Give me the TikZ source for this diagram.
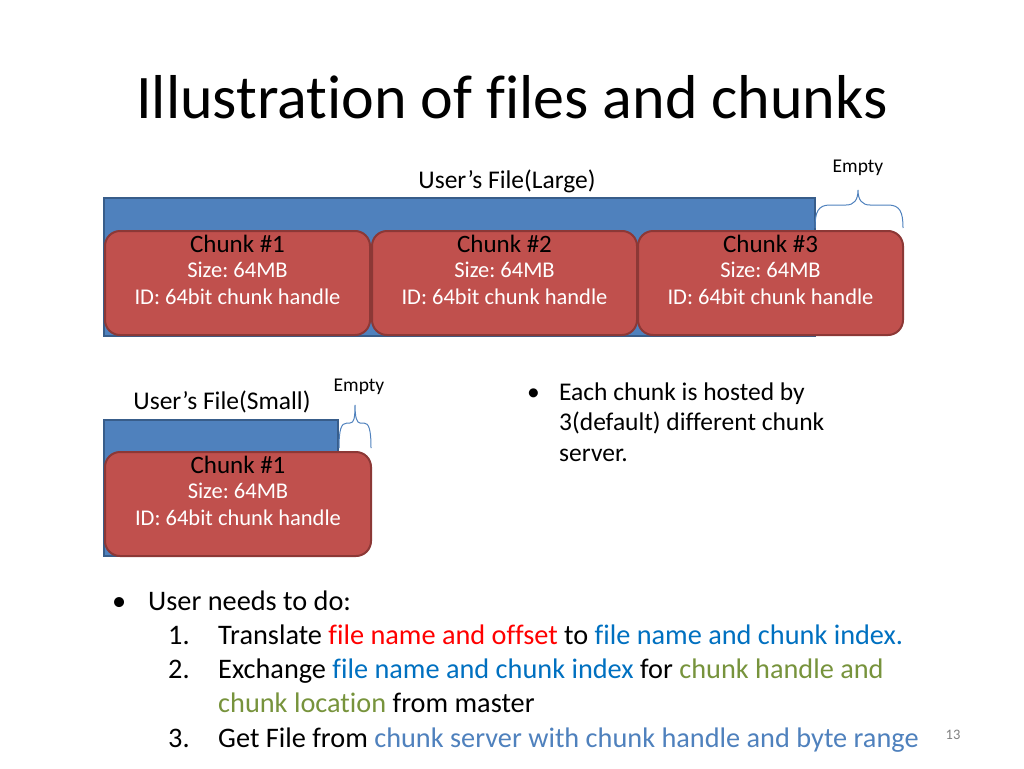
\documentclass[tikz,border=0pt]{standalone}
\usepackage{fontspec}
\setmainfont[Ligatures={NoCommon}]{Carlito}
\definecolor{fblue}{HTML}{4F81BD}
\definecolor{fbluedark}{HTML}{385D8A}
\definecolor{cred}{HTML}{C0504D}
\definecolor{creddark}{HTML}{8C3836}
\definecolor{tred}{HTML}{FF0000}
\definecolor{tblue}{HTML}{0070C0}
\definecolor{tgreen}{HTML}{77933C}
\definecolor{tlblue}{HTML}{4F81BD}
\tikzset{
  filebox/.style={draw=fbluedark, fill=fblue, line width=1.2pt},
  chunkbox/.style={draw=creddark, fill=cred, line width=2pt, rounded corners=15pt},
  chunktitle/.style={anchor=base, font=\fontsize{25}{25}\selectfont, text=black, inner sep=0pt},
  chunkline/.style={anchor=base, font=\fontsize{22.5}{22.5}\selectfont, text=white, inner sep=0pt},
  lbl/.style={anchor=base, font=\fontsize{25.5}{25.5}\selectfont, inner sep=0pt},
  emptylbl/.style={anchor=base, font=\fontsize{19.5}{19.5}\selectfont, inner sep=0pt},
  bracestyle/.style={draw=fblue, line width=1pt},
  body/.style={anchor=base west, font=\fontsize{28.3}{28.3}\selectfont, inner sep=0pt},
  side/.style={anchor=base west, font=\fontsize{25.5}{25.5}\selectfont, inner sep=0pt},
}
\begin{document}
\frenchspacing
\begin{tikzpicture}[x=1pt,y=-1pt]
\useasboundingbox (0,0) rectangle (1024,768);
% title
\node[anchor=base, font=\fontsize{62}{62}\selectfont, inner sep=0pt] (title) at (512,118) {Illustration of files and chunks};
% large file
\node[lbl] (largelbl) at (507,188) {User’s File(Large)};
\draw[filebox] (104,198) rectangle (815,336);
\node[emptylbl] (empty1) at (858,172) {Empty};
\draw[bracestyle] (815,228) .. controls (815,212) and (818,205) .. (830,205) -- (846,205) .. controls (854,205) and (858,200) .. (858,190)
  .. controls (858,200) and (862,205) .. (870,205) -- (888,205) .. controls (900,205) and (903,212) .. (903,228);
\foreach \x/\n in {105/1,372/2,638/3}{
  \draw[chunkbox] (\x,231) rectangle ++(265,104);
  \node[chunktitle] (c\n t) at (\x+132.5,252) {Chunk \#\n};
  \node[chunkline] (c\n s) at (\x+132.5,277) {Size: 64MB};
  \node[chunkline] (c\n i) at (\x+132.5,304) {ID: 64bit chunk handle};
}
% small file
\node[lbl] (smalllbl) at (222,409) {User’s File(Small)};
\draw[filebox] (104,420) rectangle (338,556);
\node[emptylbl] (empty2) at (359,391) {Empty};
\draw[bracestyle] (339,448) .. controls (339,430) and (341,423) .. (347,423) -- (350,423) .. controls (354,423) and (355,418) .. (355,405)
  .. controls (355,418) and (357,423) .. (360,423) -- (364,423) .. controls (369,423) and (371,430) .. (371,448);
\draw[chunkbox] (105,452) rectangle ++(266,104);
\node[chunktitle] (s1t) at (238,473) {Chunk \#1};
\node[chunkline] (s1s) at (238,498) {Size: 64MB};
\node[chunkline] (s1i) at (238,525) {ID: 64bit chunk handle};
% right bullet
\node[side] (rb) at (527,400) {•};
\node[side] (r1) at (559,400) {Each chunk is hosted by};
\node[side] (r2) at (559,430) {3(default) different chunk};
\node[side] (r3) at (559,461) {server.};
% bottom list
\node[body] (bb) at (112,610) {•};
\node[body] (b0) at (148,610) {User needs to do:};
\node[body] (n1) at (168,644) {1.};
\node[body] (t1) at (218,644) {Translate \textcolor{tred}{file name and offset} to \textcolor{tblue}{file name and chunk index.}};
\node[body] (n2) at (168,678) {2.};
\node[body] (t2) at (218,678) {Exchange \textcolor{tblue}{file name and chunk index} for \textcolor{tgreen}{chunk handle and}};
\node[body] (t2b) at (218,712) {\textcolor{tgreen}{chunk location} from master};
\node[body] (n3) at (168,747) {3.};
\node[body] (t3) at (218,747) {Get File from \textcolor{tlblue}{chunk server with chunk handle and byte range}};
\node[anchor=base, font=\fontsize{14.5}{14.5}\selectfont, text=gray, inner sep=0pt] (pg) at (953,739) {13};
\end{tikzpicture}
\end{document}
